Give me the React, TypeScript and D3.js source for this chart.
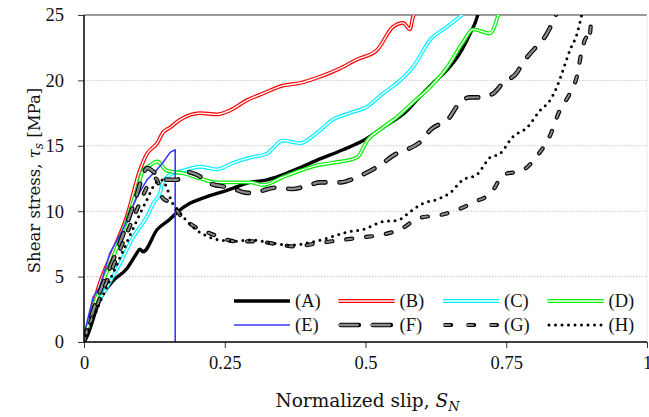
import React, { useRef, useEffect } from "react";
import * as d3 from "d3";

type Pt = [number, number];

// slip (normalized), shear stress (MPa)
const seriesA: Pt[] = [
  [0, 0], [0.004, 0.3], [0.028, 3.2], [0.052, 4.7], [0.076, 5.6], [0.094, 6.8], [0.099, 7.1],
  [0.105, 6.9], [0.13, 8.6], [0.153, 9.4], [0.165, 9.9], [0.188, 10.6], [0.211, 11.0],
  [0.254, 11.6], [0.295, 12.2], [0.325, 12.4], [0.366, 13.0], [0.414, 13.9], [0.46, 14.7],
  [0.496, 15.4], [0.531, 16.4], [0.574, 17.7], [0.591, 18.5], [0.62, 19.8], [0.645, 20.8],
  [0.668, 22.1], [0.686, 23.6], [0.698, 24.8], [0.701, 25.3],
];
const seriesB: Pt[] = [
  [0, 0], [0.028, 4.5], [0.052, 7.0], [0.076, 9.6], [0.099, 13.1], [0.112, 14.4], [0.13, 15.2],
  [0.14, 16.0], [0.153, 16.4], [0.171, 17.0], [0.206, 17.5], [0.236, 17.4], [0.259, 17.7],
  [0.29, 18.5], [0.318, 19.0], [0.353, 19.6], [0.384, 19.8], [0.414, 20.2], [0.449, 20.8],
  [0.485, 21.6], [0.52, 22.3], [0.549, 24.1], [0.567, 24.4], [0.579, 23.9], [0.584, 24.8],
  [0.59, 25.4],
];
const seriesC: Pt[] = [
  [0, 0], [0.005, 0.9], [0.041, 4.2], [0.064, 6.0], [0.087, 8.0], [0.112, 9.6], [0.123, 10.6],
  [0.135, 11.4], [0.14, 12.2], [0.153, 12.8], [0.176, 13.1], [0.206, 13.4], [0.236, 13.2],
  [0.265, 13.7], [0.295, 14.1], [0.325, 14.4], [0.353, 15.4], [0.384, 15.2], [0.414, 16.0],
  [0.442, 17.0], [0.472, 17.5], [0.503, 18.0], [0.531, 19.0], [0.556, 19.8], [0.584, 21.0],
  [0.615, 23.1], [0.645, 24.1], [0.677, 25.2],
];
const seriesD: Pt[] = [
  [0, 0], [0.005, 0.9], [0.028, 4.0], [0.052, 6.5], [0.076, 9.3], [0.094, 11.6], [0.105, 13.1],
  [0.117, 13.5], [0.13, 13.8], [0.147, 13.1], [0.176, 12.9], [0.206, 12.5], [0.236, 12.2],
  [0.295, 12.2], [0.318, 12.0], [0.353, 12.6], [0.384, 13.1], [0.414, 13.5], [0.442, 13.7],
  [0.485, 14.1], [0.503, 15.4], [0.531, 16.4], [0.556, 17.2], [0.584, 18.3], [0.615, 19.5],
  [0.645, 21.0], [0.673, 22.9], [0.691, 23.9], [0.721, 23.6], [0.737, 25.2],
];
const seriesE: Pt[] = [
  [0, 0], [0.002, 0.9], [0.016, 3.4], [0.028, 4.2], [0.046, 6.8], [0.069, 8.6], [0.094, 11.1],
  [0.112, 12.4], [0.13, 13.2], [0.14, 13.7], [0.153, 14.5], [0.162, 14.7], [0.162, 0],
];
const seriesF: Pt[] = [
  [0, 0], [0.005, 0.8], [0.028, 3.8], [0.052, 6.3], [0.076, 9.0], [0.094, 11.3], [0.105, 12.8],
  [0.112, 13.3], [0.13, 12.8], [0.15, 12.4], [0.165, 12.4], [0.183, 13.0], [0.2, 12.8],
  [0.225, 12.1], [0.26, 11.8], [0.29, 11.4], [0.31, 11.5], [0.34, 11.8], [0.37, 11.7],
  [0.4, 12.0], [0.42, 12.2], [0.455, 12.2], [0.48, 12.5], [0.5, 12.9], [0.525, 13.5],
  [0.555, 14.4], [0.573, 14.7], [0.6, 15.4], [0.615, 16.2], [0.65, 17.2], [0.662, 18.0],
  [0.685, 18.7], [0.703, 18.7], [0.727, 19.0], [0.744, 19.8], [0.769, 20.6], [0.779, 21.3],
  [0.804, 22.6], [0.815, 23.1], [0.833, 24.5], [0.84, 25.2],
];
const seriesG: Pt[] = [
  [0, 0], [0.005, 0.7], [0.028, 3.3], [0.052, 5.8], [0.076, 8.3], [0.099, 10.6], [0.117, 12.2],
  [0.128, 12.5], [0.14, 11.0], [0.156, 10.6], [0.171, 9.7], [0.197, 8.8], [0.224, 8.3],
  [0.242, 8.0], [0.268, 7.7], [0.307, 7.7], [0.339, 7.5], [0.378, 7.3], [0.407, 7.5],
  [0.458, 7.8], [0.494, 8.0], [0.529, 8.2], [0.561, 8.6], [0.597, 9.5], [0.632, 9.7],
  [0.663, 10.1], [0.693, 10.7], [0.723, 11.4], [0.746, 12.8], [0.778, 13.1], [0.806, 14.3],
  [0.828, 15.8], [0.845, 17.7], [0.863, 19.0], [0.876, 20.4], [0.883, 22.0], [0.893, 23.3],
  [0.897, 23.0], [0.901, 24.6], [0.903, 25.2],
];
const seriesH: Pt[] = [
  [0, 0], [0.028, 3.0], [0.052, 5.3], [0.076, 7.6], [0.094, 9.3], [0.112, 10.9], [0.128, 12.2],
  [0.138, 12.4], [0.147, 11.8], [0.155, 10.8], [0.165, 10.2], [0.176, 9.6], [0.193, 8.8],
  [0.218, 8.1], [0.241, 7.8], [0.265, 7.7], [0.295, 7.8], [0.33, 7.6], [0.366, 7.4],
  [0.401, 7.6], [0.437, 8.0], [0.467, 8.4], [0.496, 8.6], [0.531, 9.2], [0.556, 9.3],
  [0.584, 10.1], [0.602, 10.6], [0.627, 10.9], [0.65, 11.4], [0.673, 12.4], [0.698, 12.8],
  [0.721, 14.1], [0.739, 14.4], [0.762, 15.7], [0.787, 16.4], [0.81, 17.7], [0.828, 18.5],
  [0.84, 19.5], [0.851, 20.8], [0.863, 22.3], [0.876, 23.6], [0.885, 25.2],
];

const labels = ["(A)", "(B)", "(C)", "(D)", "(E)", "(F)", "(G)", "(H)"];
const xTicks = [0, 0.25, 0.5, 0.75, 1];
const yTicks = [0, 5, 10, 15, 20, 25];

// stroke layers per series
type Layer = { c: string; w: number; dash?: string; legendDash?: string; cap?: string };
const styles: Layer[][] = [
  [{ c: "#000", w: 3.4 }],
  [{ c: "#ff0000", w: 3.8 }, { c: "#fff", w: 1.4 }],
  [{ c: "#00f0ff", w: 3.8 }, { c: "#fff", w: 1.4 }],
  [{ c: "#00ee00", w: 3.8 }, { c: "#fff", w: 1.4 }],
  [{ c: "#3a3aff", w: 1.6 }],
  [
    { c: "#000", w: 4.6, dash: "12 14", legendDash: "18 14", cap: "round" },
    { c: "#8a8a8a", w: 2.4, dash: "12 14", legendDash: "18 14", cap: "round" },
  ],
  [
    { c: "#000", w: 4.2, dash: "6 14", legendDash: "6 17", cap: "round" },
    { c: "#8a8a8a", w: 2.0, dash: "6 14", legendDash: "6 17", cap: "round" },
  ],
  [{ c: "#000", w: 3, dash: "0 6.5", legendDash: "0 6.5", cap: "round" }],
];

const App = () => {
  const ref = useRef<HTMLDivElement>(null);

  useEffect(() => {
    document.body.style.margin = "0";
    const width = 649;
    const height = 417;
    const left = 84, right = 647, top = 15, bottom = 342;
    const font = "DejaVu Serif";
    const numFont = "Liberation Serif";
    const all = [seriesA, seriesB, seriesC, seriesD, seriesE, seriesF, seriesG, seriesH];

    const x = d3.scaleLinear().domain([0, 1]).range([left, right]);
    const y = d3.scaleLinear().domain([0, 25]).range([bottom, top]);

    const svg = d3.create("svg")
      .attr("width", width)
      .attr("height", height)
      .attr("viewBox", [0, 0, width, height])
      .style("display", "block")
      .style("background", "#fff");

    svg.append("defs").append("clipPath").attr("id", "plot")
      .append("rect").attr("x", left).attr("y", top).attr("width", right - left + 2).attr("height", bottom - top);

    // grid
    svg.append("g").selectAll("line")
      .data([5, 10, 15, 20])
      .join("line")
      .attr("x1", left).attr("x2", right)
      .attr("y1", d => y(d)).attr("y2", d => y(d))
      .attr("stroke", "#c8c8c8")
      .attr("stroke-dasharray", "1.5 1.5");

    svg.append("line").attr("x1", left).attr("x2", right).attr("y1", y(25)).attr("y2", y(25))
      .attr("stroke", "#7a7a7a").attr("stroke-width", 1.5);
    svg.append("line").attr("x1", right).attr("x2", right).attr("y1", top).attr("y2", bottom)
      .attr("stroke", "#d4f4e0").attr("stroke-width", 1);

    // curves
    const line = d3.line<Pt>().x(d => x(d[0])).y(d => y(d[1])).curve(d3.curveMonotoneX);
    const lineE = d3.line<Pt>().x(d => x(d[0])).y(d => y(d[1]));
    const curves = svg.append("g").attr("clip-path", "url(#plot)");
    all.forEach((s, i) => {
      styles[i].forEach(l => {
        curves.append("path")
          .attr("d", i === 4 ? lineE(s) : line(s))
          .attr("fill", "none")
          .attr("stroke", l.c)
          .attr("stroke-width", l.w)
          .attr("stroke-dasharray", l.dash ?? null)
          .attr("stroke-linecap", l.cap ?? "butt")
          .attr("stroke-linejoin", "round");
      });
    });

    // axes
    const gx = svg.append("g").attr("transform", `translate(0,${bottom})`);
    gx.call(d3.axisBottom(x).tickValues(d3.range(0, 1.0001, 0.025)).tickSize(3).tickFormat(() => ""))
      .call(g => g.select(".domain").remove());
    gx.call(d3.axisBottom(x).tickValues(xTicks).tickSize(6).tickPadding(8).tickFormat(d => String(d)))
      .call(g => g.select(".domain").remove());

    const gy = svg.append("g").attr("transform", `translate(${left},0)`);
    gy.call(d3.axisLeft(y).tickValues(d3.range(0, 25.001, 1)).tickSize(3).tickFormat(() => ""))
      .call(g => g.select(".domain").remove());
    gy.call(d3.axisLeft(y).tickValues(yTicks).tickSize(6).tickPadding(14).tickFormat(d => String(d)))
      .call(g => g.select(".domain").remove());

    svg.selectAll(".tick line").attr("stroke", "#000").attr("stroke-width", 0.8);
    svg.selectAll(".tick text").attr("font-family", numFont).attr("font-size", 18.5).attr("fill", "#111");

    svg.append("line").attr("x1", left).attr("x2", right).attr("y1", bottom).attr("y2", bottom)
      .attr("stroke", "#000").attr("stroke-width", 1.5);
    svg.append("line").attr("x1", left).attr("x2", left).attr("y1", top).attr("y2", bottom)
      .attr("stroke", "#000").attr("stroke-width", 1.5);

    // titles
    const xt = svg.append("text")
      .attr("x", (left + right) / 2 + 2).attr("y", 407)
      .attr("text-anchor", "middle")
      .attr("font-family", font).attr("font-size", 18.5).attr("fill", "#111");
    xt.append("tspan").text("Normalized slip, ");
    xt.append("tspan").attr("font-style", "italic").text("S");
    xt.append("tspan").attr("font-style", "italic").attr("font-size", 13).attr("dy", 4).text("N");

    const yt = svg.append("text")
      .attr("transform", `translate(40,${(top + bottom) / 2 + 2}) rotate(-90)`)
      .attr("text-anchor", "middle")
      .attr("font-family", font).attr("font-size", 16.5).attr("fill", "#111");
    yt.append("tspan").text("Shear stress, ");
    yt.append("tspan").attr("font-style", "italic").text("τ");
    yt.append("tspan").attr("font-style", "italic").attr("font-size", 12).attr("dy", 3).text("s");
    yt.append("tspan").attr("dy", -3).text(" [MPa]");

    // legend
    const legend = svg.append("g");
    labels.forEach((lab, i) => {
      const col = i % 4;
      const row = Math.floor(i / 4);
      const lx = 234 + col * 104.5;
      const ly = 301 + row * 24;
      styles[i].forEach(l => {
        const inset = l.cap === "round" ? l.w / 2 : 0;
        legend.append("line")
          .attr("x1", lx + inset).attr("x2", lx + 56 - inset)
          .attr("y1", ly).attr("y2", ly)
          .attr("stroke", l.c)
          .attr("stroke-width", l.w)
          .attr("stroke-dasharray", l.legendDash ?? null)
          .attr("stroke-linecap", l.cap ?? "butt");
      });
      legend.append("text")
        .attr("x", lx + 61).attr("y", ly + 6)
        .attr("font-family", numFont).attr("font-size", 18.5).attr("fill", "#111")
        .text(lab);
    });

    if (ref.current) {
      ref.current.innerHTML = "";
      ref.current.appendChild(svg.node() as SVGSVGElement);
    }
  }, []);

  return <div ref={ref} />;
};

export default App;
